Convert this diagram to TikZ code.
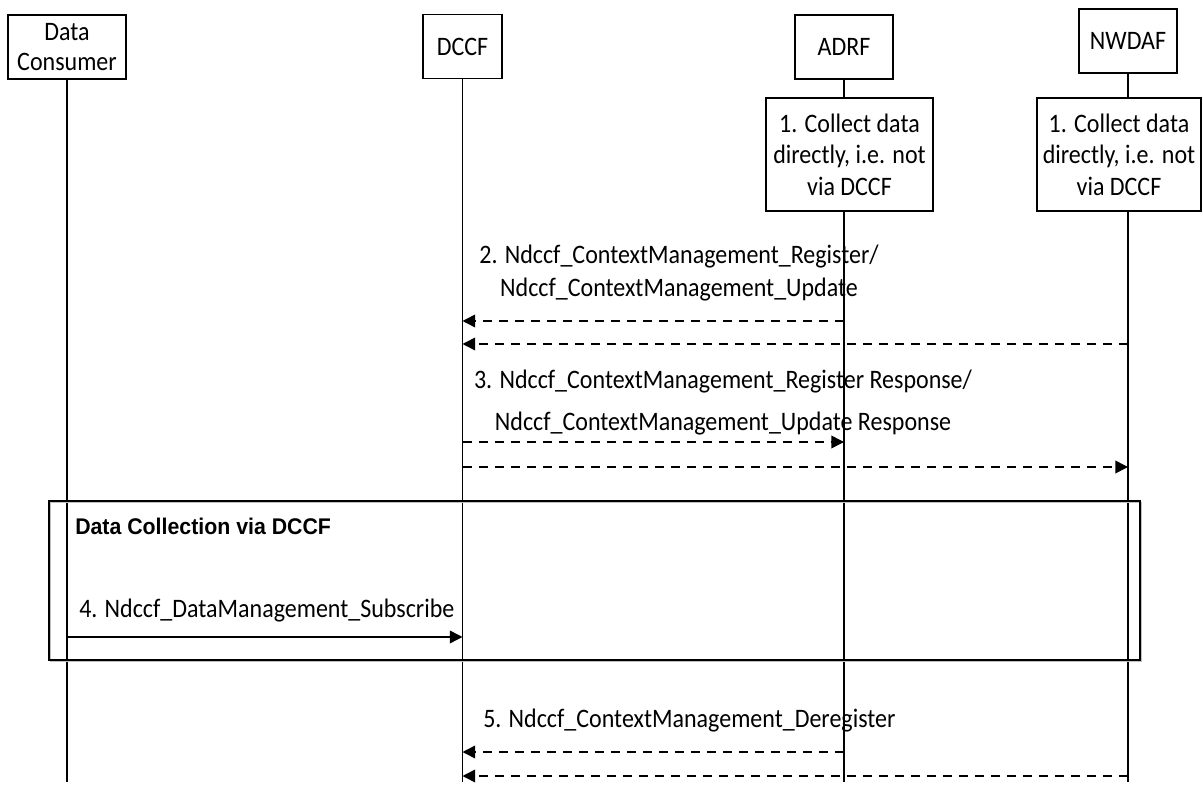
\documentclass[tikz,border=0pt]{standalone}
\usepackage{fontspec}
\newfontfamily\lblfont{Carlito}[FakeStretch=0.9]
\newfontfamily\ttlfont{Liberation Sans}[FakeStretch=0.94]
\usetikzlibrary{arrows.meta}
\begin{document}
\begin{tikzpicture}[x=0.75pt,y=-0.75pt,
  every node/.style={inner sep=0pt},
  lbl/.style={font=\lblfont\fontsize{20}{24}\selectfont, align=center},
  entity/.style={draw, line width=1.1pt, lbl, minimum height=48pt},
  actbox/.style={draw, line width=1.1pt, fill=white, lbl, minimum height=84.75pt, font=\lblfont\fontsize{20}{23.6}\selectfont},
  life/.style={line width=1.1pt},
  tip/.style={-{Triangle[length=9.5pt,width=9.5pt]}},
  msgd/.style={line width=1.1pt, dash pattern=on 6.75pt off 5.25pt, tip},
  msgs/.style={line width=1.1pt, tip},
  grp/.style={draw, line width=1.1pt},
  grpshadow/.style={draw=gray!50, line width=1.1pt},
  grptitle/.style={font=\ttlfont\bfseries\fontsize{17}{20}\selectfont}
]
\useasboundingbox (0,0) rectangle (1203,787);

% entities
\node[entity, minimum width=88.5pt, font=\lblfont\fontsize{20}{22.5}\selectfont] (dc) at (67,47) {Data\\Consumer};
\node[entity, minimum width=59.25pt] (dccf) at (462.5,46.5) {DCCF};
\node[entity, minimum width=73.5pt] (adrf) at (844,47) {ADRF};
\node[entity, minimum width=73.5pt] (nwdaf) at (1128,41) {NWDAF};

\node[actbox, minimum width=125.25pt] (colA) at (849.5,154.5) {1. Collect data\\directly, i.e. not\\via DCCF};
\node[actbox, minimum width=123pt] (colN) at (1119,154.5) {1. Collect data\\directly, i.e. not\\via DCCF};

% lifelines
\coordinate (bottom) at (0,782);
\draw[life] (dc.south) -- (dc.south |- bottom);
\draw[life] (dccf.south) -- (dccf.south |- bottom);
\draw[life] (adrf.south) -- (colA.north -| adrf.south);
\draw[life] (colA.south -| adrf.south) -- (adrf.south |- bottom);
\draw[life] (nwdaf.south) -- (colN.north -| nwdaf.south);
\draw[life] (colN.south -| nwdaf.south) -- (nwdaf.south |- bottom);

% group frame
\node[grpshadow, minimum width=818.25pt, minimum height=119.25pt] (grps) at (596,582) {};
\node[grp, minimum width=818.25pt, minimum height=119.25pt] (grp) at (594.5,580.5) {};
\node[grptitle, anchor=base west] (gt) at (75,535) {Data Collection via DCCF};

% message rows
\coordinate (r2a) at (0,321);
\coordinate (r2b) at (0,344);
\coordinate (r3a) at (0,442);
\coordinate (r3b) at (0,467);
\coordinate (r4) at (0,637);
\coordinate (r5a) at (0,752);
\coordinate (r5b) at (0,776);

\node[lbl, anchor=north, font=\lblfont\fontsize{20}{24.75}\selectfont] (l2) at (679,245)
  {2. Ndccf\_ContextManagement\_Register/\\Ndccf\_ContextManagement\_Update};
\draw[msgd] (adrf.south |- r2a) -- (dccf.south |- r2a);
\draw[msgd] (nwdaf.south |- r2b) -- (dccf.south |- r2b);

\node[lbl, anchor=north, font=\lblfont\fontsize{20}{31.5}\selectfont] (l3) at (723,370)
  {3. Ndccf\_ContextManagement\_Register Response/\\Ndccf\_ContextManagement\_Update Response};
\draw[msgd] (dccf.south |- r3a) -- (adrf.south |- r3a);
\draw[msgd] (dccf.south |- r3b) -- (nwdaf.south |- r3b);

\node[lbl, anchor=base west] (l4) at (79,617) {4. Ndccf\_DataManagement\_Subscribe};
\draw[msgs] (dc.south |- r4) -- (dccf.south |- r4);

\node[lbl, anchor=base west] (l5) at (483,727) {5. Ndccf\_ContextManagement\_Deregister};
\draw[msgd] (adrf.south |- r5a) -- (dccf.south |- r5a);
\draw[msgd] (nwdaf.south |- r5b) -- (dccf.south |- r5b);
\end{tikzpicture}
\end{document}
